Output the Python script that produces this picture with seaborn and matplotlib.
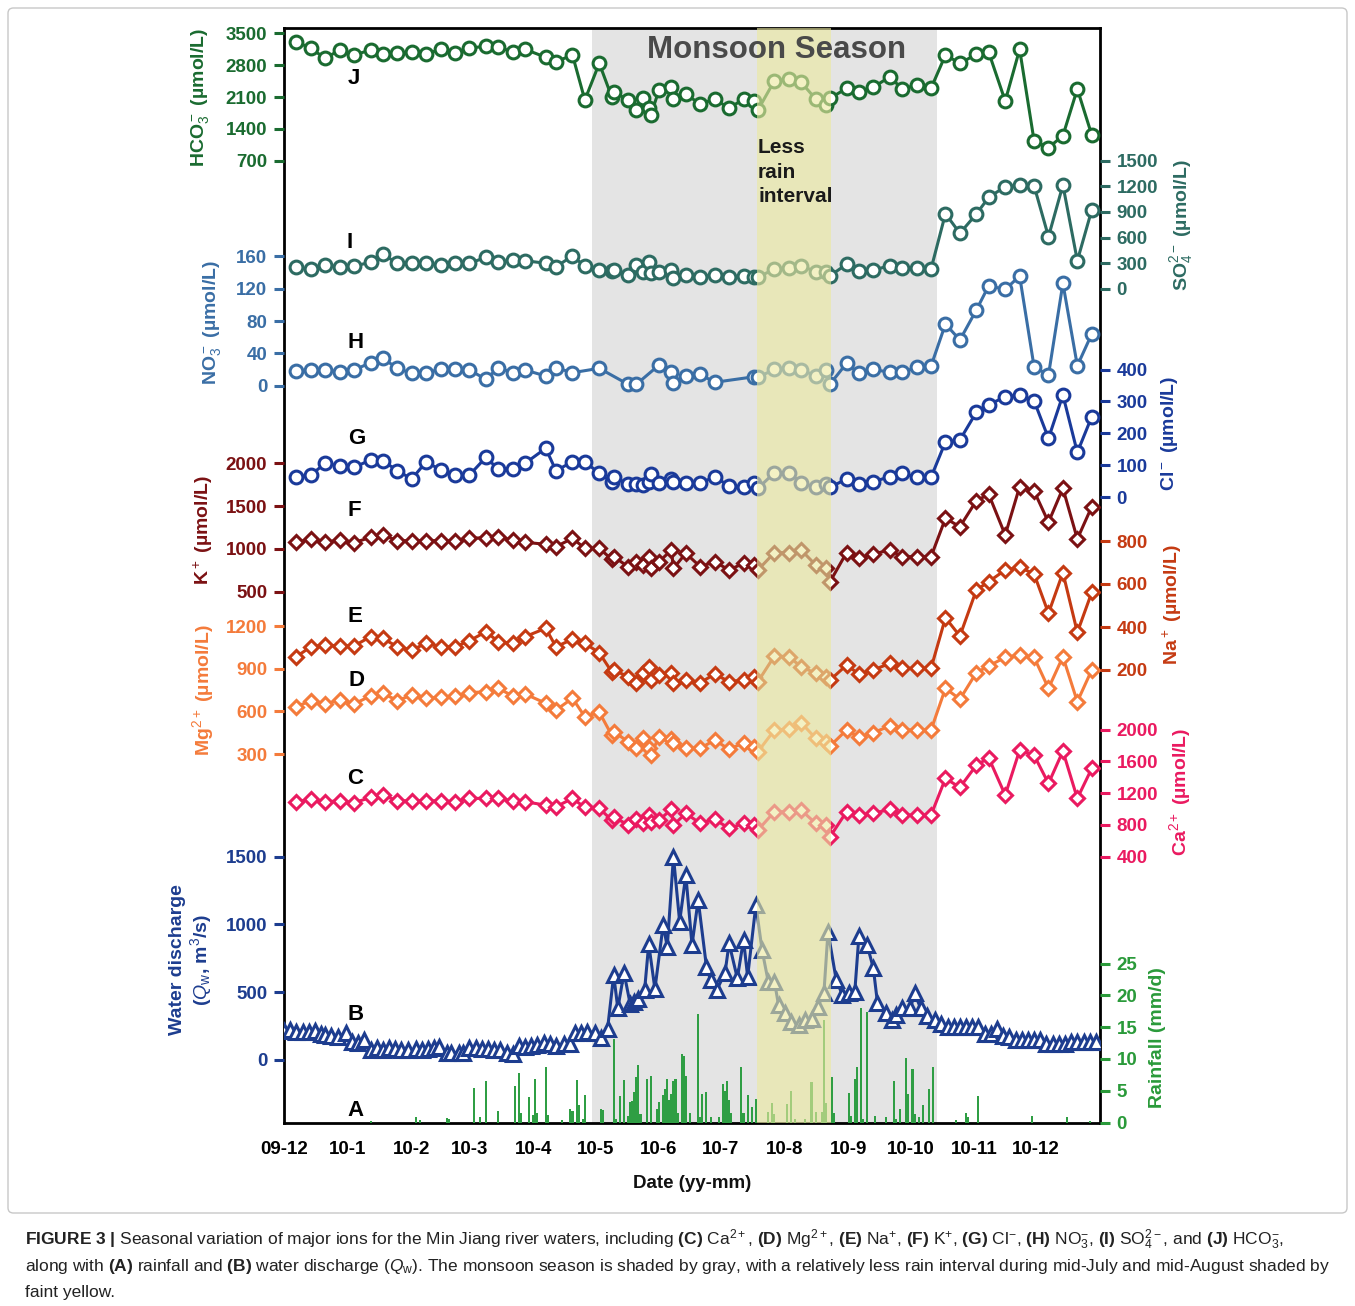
import numpy as np
import matplotlib
matplotlib.use("Agg")
import matplotlib.pyplot as plt
import seaborn as sns
from matplotlib.patches import FancyBboxPatch

sns.set_theme(style="white")
plt.rcParams['font.family'] = ['Liberation Sans', 'DejaVu Sans']
plt.rcParams['mathtext.fontset'] = 'custom'
plt.rcParams['mathtext.rm'] = 'Liberation Sans'
plt.rcParams['mathtext.bf'] = 'Liberation Sans:bold'
plt.rcParams['mathtext.it'] = 'Liberation Sans:italic'

# ---------------- data ----------------
month_ticks = [0, 31, 62, 90, 121, 151, 182, 212, 243, 274, 304, 335, 365]
month_labels = ['09-12', '10-1', '10-2', '10-3', '10-4', '10-5', '10-6',
                '10-7', '10-8', '10-9', '10-10', '10-11', '10-12']
monsoon_days = (149.6, 316.8)
less_rain_days = (229.5, 265.5)

# days since 2009-12-01 of the water samples
ion_days = [6, 13, 20, 27, 34, 42, 48, 55, 62, 69, 76, 83, 90, 98, 104, 111, 117, 127, 132, 140, 146, 153,
            159, 160, 167, 171, 174, 177, 178, 182, 188, 189, 195, 202, 209, 216, 223, 228, 230, 238, 245,
            251, 258, 263, 265, 273, 279, 286, 294, 300, 307, 314,
            321, 328, 336, 342, 350, 357, 364, 371, 378, 385, 392]

hco3 = [3315, 3170, 2950, 3133, 3023, 3133, 3038, 3060, 3096, 3045, 3148, 3060, 3170, 3221, 3192, 3096, 3148, 2973, 2876, 3023, 2034, 2841,
        2107, 2216, 2034, 1814, 2071, 1852, 1704, 2254, 2327, 2049, 2159, 1946, 2056, 1852, 2056, 2019, 1814, 2458, 2496,
        2423, 2056, 1924, 2071, 2291, 2203, 2313, 2546, 2276, 2364, 2291,
        3023, 2841, 3038, 3082, 2012, 3148, 1140, 986, 1250, 2276, 1265]
so4 = [252, 228, 279, 259, 267, 310, 404, 299, 299, 299, 279, 299, 299, 369, 310, 337, 329, 299, 259, 384, 265, 220,
       205, 220, 162, 279, 200, 317, 190, 200, 220, 123, 162, 142, 162, 142, 150, 142, 135, 232, 247,
       270, 200, 193, 153, 287, 208, 220, 270, 240, 240, 232,
       880, 650, 876, 1071, 1196, 1215, 1207, 610, 1215, 329, 923]
no3 = [18.5, 19.4, 19.4, 17.3, 19.4, 28.4, 33.9, 21.5, 15.3, 16.1, 20.3, 20.3, 19.4, 7.9, 22.2, 16.1, 19.4, 12.0, 22.2, 16.1, np.nan, 21.5,
       np.nan, np.nan, 1.7, 1.7, np.nan, np.nan, np.nan, 25.6, 17.3, 3.0, 12.4, 14.0, 4.2, np.nan, np.nan, 11.0, 10.4, 20.2, 22.2,
       19.4, 12.4, 19.4, 2.0, 27.7, 15.3, 20.2, 16.5, 16.5, 22.7, 24.3,
       76.3, 56.5, 93.6, 123.6, 119.0, 135.6, 23.5, 13.2, 126.6, 24.7, 63.9]
cl = [63.7, 69, 105.7, 97.2, 93.2, 116, 113.9, 82.5, 56.5, 110.7, 84.7, 69, 69, 124.5, 86.9, 86.9, 105.7, 152.8, 82.5, 110.7, 110.7, 74.3,
      48, 63.7, 40.8, 40.8, 37.6, 48, 71.2, 43, 56.5, 46, 43, 43, 63.7, 34.5, 30.4, 43, 27.3, 76.2, 76.2,
      44.9, 30.4, 40.8, 30.4, 56.5, 40.8, 48, 63.7, 74.3, 61.8, 61.8,
      173, 179, 266, 289, 315, 320, 302, 184, 320, 140, 252]
k = [1077, 1112, 1077, 1104, 1072, 1136, 1162, 1096, 1096, 1096, 1096, 1089, 1124, 1131, 1136, 1104, 1077, 1054, 1026, 1124, 1007, 1007,
     879, 909, 792, 850, 812, 909, 773, 850, 987, 773, 949, 792, 850, 754, 832, 812, 754, 956, 956,
     987, 812, 773, 617, 956, 890, 940, 987, 909, 909, 909,
     1357, 1259, 1563, 1638, 1162, 1727, 1676, 1311, 1708, 1116, 1493]
na = [262, 308, 316, 312, 312, 355, 347, 308, 293, 324, 308, 308, 336, 378, 332, 324, 355, 394, 308, 343, 324, 280,
      192, 200, 169, 141, 185, 215, 153, 177, 185, 141, 153, 141, 181, 146, 153, 169, 146, 265, 262,
      215, 185, 169, 153, 223, 181, 200, 231, 208, 208, 208,
      443, 358, 572, 611, 665, 678, 647, 464, 653, 375, 561]
mg = [633, 675, 652, 680, 652, 708, 727, 675, 715, 692, 699, 708, 731, 738, 762, 708, 722, 657, 609, 692, 562, 594,
      434, 457, 387, 340, 410, 340, 293, 422, 403, 375, 340, 340, 398, 333, 379, 351, 316, 469, 474,
      520, 410, 387, 356, 469, 417, 450, 497, 469, 469, 469,
      762, 685, 872, 919, 980, 996, 980, 762, 984, 668, 891]
ca = [1092, 1122, 1092, 1104, 1079, 1147, 1176, 1104, 1104, 1104, 1104, 1092, 1135, 1135, 1135, 1104, 1092, 1050, 1029, 1135, 1020, 1009,
      862, 903, 799, 870, 820, 925, 840, 862, 996, 799, 946, 820, 870, 757, 820, 799, 736, 966, 966,
      987, 820, 799, 652, 966, 925, 946, 996, 925, 925, 925,
      1386, 1273, 1553, 1645, 1176, 1742, 1679, 1323, 1730, 1135, 1512]

q_days = [0, 3, 6, 9, 12, 15, 18, 20, 23, 26, 30, 33, 36, 39, 42, 45, 48, 51, 54, 57, 60, 64, 67, 70, 73, 75,
          79, 81, 85, 87, 90, 93, 96, 99, 102, 105, 108, 111, 114, 117, 120, 123, 126, 129, 132, 136, 139,
          141, 144, 147, 151, 154, 157, 160, 162, 165, 168, 170, 172, 175, 177, 180, 184, 186, 189, 192,
          195, 198, 201, 205, 207, 210, 214, 216, 220, 223, 225, 229, 232, 235, 238, 240, 243, 246, 250,
          253, 256, 259, 262, 264, 268, 271, 274, 277, 279, 283, 286, 288, 292, 295, 297, 300, 304, 306,
          309, 312, 316, 319, 322, 325, 328, 331, 334, 337, 340, 343, 346, 349, 352, 355, 358, 361, 364,
          367, 370, 373, 376, 379, 382, 385, 388, 391, 394]
q_vals = [216, 221, 209, 209, 209, 214, 192, 185, 177, 172, 197, 135, 128, 148, 74, 86, 74, 91, 79, 74, 74, 79, 74, 79, 86, 94,
          54, 54, 54, 54, 86, 86, 79, 79, 74, 74, 49, 44, 103, 98, 103, 111, 128, 118, 103, 118, 118,
          197, 201, 209, 201, 160, 227, 627, 381, 644, 413, 430, 448, 517, 856, 524, 996, 836, 1500, 1021,
          1365, 849, 1181, 689, 590, 517, 640, 861, 603, 886, 615, 1144, 812, 578, 578, 406, 345, 283, 258,
          295, 300, 393, 492, 947, 590, 480, 492, 504, 915, 849, 677, 423, 345, 295, 332, 381, 381, 492,
          381, 325, 295, 263, 240, 245, 243, 243, 243, 240, 195, 190, 232, 175, 170, 150, 148, 148, 148,
          145, 118, 115, 118, 120, 135, 135, 135, 135, 130]

rain_days = [42, 64, 66, 79, 80, 92, 95, 98, 104, 112, 114, 115, 119, 121, 122, 123, 127, 128, 135, 139, 140,
             142, 143, 145, 146, 154, 155, 160, 161, 163, 165, 167, 168, 169, 170, 171, 172, 173, 176, 178,
             181, 182, 184, 185, 186, 187, 188, 189, 190, 191, 193, 194, 195, 197, 201, 202, 203, 205, 207,
             211, 213, 214, 215, 216, 217, 222, 223, 225, 227, 229, 235, 237, 238, 244, 246, 248, 253, 256,
             258, 261, 262, 263, 266, 267, 274, 275, 277, 278, 280, 281, 283, 287, 292, 296, 297, 299, 302,
             303, 305, 306, 308, 310, 313, 315, 326, 331, 332, 337, 363, 380, 391]
rain_mm = [0.3, 0.9, 0.4, 0.7, 0.6, 5.5, 0.8, 6.6, 1.8, 5.8, 7.8, 1.5, 4.0, 1.2, 6.9, 1.5, 8.7, 1.2, 0.4, 2.1, 1.8,
           6.7, 2.7, 0.6, 4.3, 2.2, 1.9, 13.2, 0.5, 4.2, 6.7, 1.0, 3.2, 3.4, 4.8, 7.1, 9.0, 1.4, 6.9, 7.3,
           2.1, 3.2, 4.3, 5.3, 6.9, 3.6, 4.5, 6.6, 6.9, 1.5, 10.7, 10.5, 7.3, 1.5, 17.1, 0.8, 4.5, 4.8, 0.8,
           0.8, 6.0, 5.0, 6.6, 3.5, 1.5, 8.7, 1.5, 4.3, 2.5, 3.7, 1.7, 3.0, 1.3, 2.9, 5.0, 0.5, 0.5, 6.3,
           1.6, 1.6, 16.1, 3.0, 7.1, 1.5, 4.6, 1.0, 6.8, 8.7, 18.0, 0.6, 17.3, 1.0, 0.8, 6.5, 0.6, 2.2, 10.1,
           4.5, 8.4, 1.3, 0.8, 2.7, 5.2, 8.7, 0.4, 1.5, 0.9, 4.2, 1.0, 0.8, 0.3]

hco3_ticks = [700, 1400, 2100, 2800, 3500]
so4_ticks = [0, 300, 600, 900, 1200, 1500]
no3_ticks = [0, 40, 80, 120, 160]
cl_ticks = [0, 100, 200, 300, 400]
k_ticks = [500, 1000, 1500, 2000]
na_ticks = [200, 400, 600, 800]
mg_ticks = [300, 600, 900, 1200]
ca_ticks = [400, 800, 1200, 1600, 2000]
q_ticks = [0, 500, 1000, 1500]
rain_ticks = [0, 5, 10, 15, 20, 25]

# ---------------- layout ----------------
FIG_W, FIG_H = 1355, 1306
AX_L, AX_R, AX_T, AX_B = 284, 1100, 28, 1123


def fxy(px, py):
    return px / FIG_W, 1 - py / FIG_H


def lims(v1, p1, v2, p2):
    s = (p2 - p1) / (v1 - v2)
    return v1 - (AX_B - p1) / s, v1 + (p1 - AX_T) / s


fig = plt.figure(figsize=(FIG_W / 100, FIG_H / 100), dpi=100)
fig.patch.set_facecolor('white')
ax = fig.add_axes([AX_L / FIG_W, 1 - AX_B / FIG_H, (AX_R - AX_L) / FIG_W, (AX_B - AX_T) / FIG_H])
ax.set_facecolor('white')
ax.set_xlim(0, 396)
ax.set_ylim(0, 1)
ax.set_yticks([])
ax.axvspan(*monsoon_days, color='#e4e4e4', lw=0, zorder=0)
for sp in ax.spines.values():
    sp.set_color('black')
    sp.set_linewidth(2.0)
ax.set_xticks(month_ticks)
ax.set_xticklabels(month_labels, fontsize=13.5, fontweight='bold', color='#111111')
ax.tick_params(axis='x', length=7, width=2.2, direction='out', colors='black', pad=6)
ax.grid(False)


def make_axis(side, ticks, anchors, color):
    a = ax.twinx()
    a.set_xlim(0, 396)
    a.set_ylim(*lims(*anchors))
    a.grid(False)
    for sp in a.spines.values():
        sp.set_visible(False)
    a.set_yticks(ticks)
    a.set_yticklabels([str(t) for t in ticks])
    if side == 'left':
        a.yaxis.tick_left()
    else:
        a.yaxis.tick_right()
    a.tick_params(axis='y', colors=color, length=7, width=2.2, direction='out', labelsize=13.5, pad=5)
    for lab in a.get_yticklabels():
        lab.set_fontweight('bold')
    return a


# rainfall (A)
rain_color = '#2f9e44'
rain_anchor = (25, 963.5, 0, 1122.5)
a_rain = make_axis('right', rain_ticks, rain_anchor, '#2a9a3a')
a_rain.bar(rain_days, rain_mm, width=1.0, color=rain_color, lw=0)
a_rain.set_ylim(*lims(*rain_anchor))


def draw_series(a, days, vals, color, marker, ms):
    d = np.asarray(days, float)
    v = np.asarray(vals, float)
    m = ~np.isnan(v)
    sns.lineplot(x=d[m], y=v[m], ax=a, color=color, linewidth=2.2, marker=marker, markersize=ms,
                 markerfacecolor='white', markeredgecolor=color, markeredgewidth=2.2,
                 estimator=None, sort=True)
    a.set_xlabel('')
    a.set_ylabel('')
    a.set_xlim(0, 396)


specs = [
    # values, days, color, marker, ms, side, ticks, anchors
    (q_vals, q_days, '#1d3d8f', '^', 9.5, 'left', q_ticks, (1500, 856.7, 0, 1060)),
    (ca, ion_days, '#ea1a60', 'D', 7.5, 'right', ca_ticks, (2000, 729.7, 400, 856.7)),
    (mg, ion_days, '#f47b3b', 'D', 7.5, 'left', mg_ticks, (1200, 626, 300, 754)),
    (na, ion_days, '#c53a12', 'D', 7.5, 'right', na_ticks, (800, 541, 200, 670)),
    (k, ion_days, '#7b1113', 'D', 7.5, 'left', k_ticks, (2000, 463.3, 500, 591.7)),
    (cl, ion_days, '#1a3a9a', 'o', 9.2, 'right', cl_ticks, (400, 369.5, 0, 497)),
    (no3, ion_days, '#3a6ea5', 'o', 9.2, 'left', no3_ticks, (160, 256.3, 0, 385.7)),
    (so4, ion_days, '#2d6b62', 'o', 9.2, 'right', so4_ticks, (1500, 160.7, 0, 288.8)),
    (hco3, ion_days, '#1a6b30', 'o', 9.2, 'left', hco3_ticks, (3500, 33.3, 700, 160.7)),
]
for vals, days, color, marker, ms, side, ticks, anchors in specs:
    a = make_axis(side, ticks, anchors, color)
    draw_series(a, days, vals, color, marker, ms)
    a.set_ylim(*lims(*anchors))

# yellow "less rain" band on top
top = ax.twinx()
top.set_ylim(0, 1)
top.set_xlim(0, 396)
top.set_yticks([])
top.grid(False)
for sp in top.spines.values():
    sp.set_visible(False)
top.axvspan(*less_rain_days, color='#ece9a0', alpha=0.62, lw=0)

# ---------------- texts ----------------
fig.text(*fxy(777, 50), 'Monsoon Season', fontsize=22.5, fontweight='bold', color='#4a4a4a',
         ha='center', va='center')
fig.text(*fxy(758, 172), 'Less\nrain\ninterval', fontsize=15, fontweight='bold', color='#1a1a1a',
         ha='left', va='center', linespacing=1.38)

letters = [('J', 354, 78), ('I', 350, 243), ('H', 356, 343), ('G', 357, 439), ('F', 354, 511),
           ('E', 355, 617), ('D', 356, 680), ('C', 355, 779), ('B', 356, 1015), ('A', 356, 1110)]
for t, px, py in letters:
    fig.text(*fxy(px, py), t, fontsize=16, fontweight='bold', color='black', ha='center', va='center')

ylabels = [
    (r'HCO$_3^-$ (µmol/L)', 200, 97, '#1a6b30'),
    (r'NO$_3^-$ (µmol/L)', 212, 322, '#3a6ea5'),
    (r'K$^+$ (µmol/L)', 203, 530, '#7b1113'),
    (r'Mg$^{2+}$ (µmol/L)', 203, 690, '#f47b3b'),
    ('Water discharge', 178, 960, '#1d3d8f'),
    (r'($Q_\mathrm{w}$, m$^3$/s)', 201, 960, '#1d3d8f'),
    (r'SO$_4^{2-}$ (µmol/L)', 1182, 225, '#2d6b62'),
    (r'Cl$^-$ (µmol/L)', 1170, 433, '#1a3a9a'),
    (r'Na$^+$ (µmol/L)', 1172, 605, '#c53a12'),
    (r'Ca$^{2+}$ (µmol/L)', 1180, 792, '#ea1a60'),
    ('Rainfall (mm/d)', 1158, 1038, '#2a9a3a'),
]
for t, px, py, c in ylabels:
    fig.text(*fxy(px, py), t, rotation=90, fontsize=14, fontweight='bold', color=c,
             ha='center', va='center')

fig.text(*fxy(692, 1183), 'Date (yy-mm)', fontsize=13.5, fontweight='bold', color='#111111',
         ha='center', va='center')

# caption
cap1 = (r"$\mathbf{FIGURE\ 3\ |}$ Seasonal variation of major ions for the Min Jiang river waters, including "
        r"$\mathbf{(C)}$ Ca$^{2+}$, $\mathbf{(D)}$ Mg$^{2+}$, $\mathbf{(E)}$ Na$^{+}$, $\mathbf{(F)}$ K$^{+}$, "
        r"$\mathbf{(G)}$ Cl$^{-}$, $\mathbf{(H)}$ NO$_3^{-}$, $\mathbf{(I)}$ SO$_4^{2-}$, and $\mathbf{(J)}$ HCO$_3^{-}$,")
cap2 = (r"along with $\mathbf{(A)}$ rainfall and $\mathbf{(B)}$ water discharge ($Q_\mathrm{w}$). The monsoon season "
        r"is shaded by gray, with a relatively less rain interval during mid-July and mid-August shaded by")
cap3 = "faint yellow."
for t, py in [(cap1, 1240), (cap2, 1266), (cap3, 1292)]:
    fig.text(*fxy(25, py), t, fontsize=12.5, color='#222222', ha='left', va='center')

frame = FancyBboxPatch(fxy(8, 1213), (1347 - 8) / FIG_W, (1213 - 8) / FIG_H,
                       boxstyle='round,pad=0,rounding_size=0.004', transform=fig.transFigure,
                       fill=False, ec='#c8c8c8', lw=1.0)
fig.patches.append(frame)

fig.savefig('out.png', dpi=100, facecolor='white')
